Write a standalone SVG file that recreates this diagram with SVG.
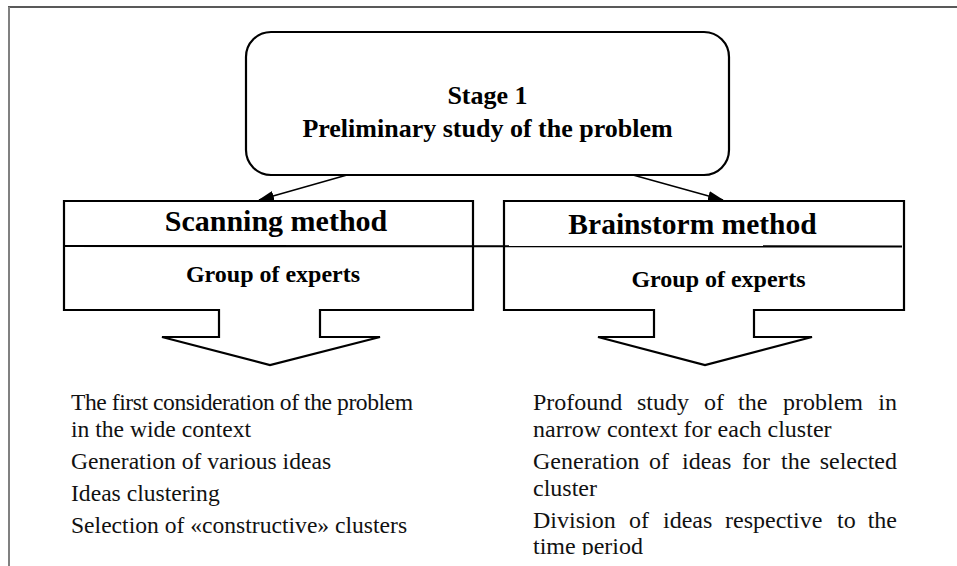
<svg xmlns="http://www.w3.org/2000/svg" width="957" height="566" viewBox="0 0 957 566">
  <defs>
    <marker id="arrowhead" viewBox="0 0 16 10" refX="15" refY="5" markerWidth="16" markerHeight="10" markerUnits="userSpaceOnUse" orient="auto">
      <path d="M0,0 L16,5 L0,10 Z" fill="#000"/>
    </marker>
    <clipPath id="page-clip">
      <rect x="0" y="0" width="957" height="555"/>
    </clipPath>
  </defs>
  <style>
    .frame-top { stroke: #222; stroke-width: 1.5; fill: none; }
    .frame-left { stroke: #808080; stroke-width: 2; fill: none; }
    .shape { fill: #fff; stroke: #000; stroke-width: 2.2; }
    .line { fill: none; stroke: #000; stroke-width: 2.2; }
    .conn { fill: none; stroke: #000; stroke-width: 1.5; }
    .title { font-family: "Liberation Serif", "Times New Roman", serif; font-weight: bold; fill: #000; text-anchor: middle; }
    .body { font-family: "Liberation Serif", "Times New Roman", serif; fill: #111; }
  </style>

  <rect width="957" height="566" fill="#fff"/>

  <!-- page frame -->
  <line class="frame-top" x1="8" y1="7" x2="957" y2="7"/>
  <line class="frame-left" x1="9" y1="7" x2="9" y2="566"/>

  <!-- stage node -->
  <g id="stage1">
    <rect class="shape" x="246" y="32" width="483" height="143" rx="25" ry="25"/>
    <text class="title" x="487.5" y="104" font-size="26">Stage 1</text>
    <text class="title" x="487.5" y="137" font-size="26">Preliminary study of the problem</text>
  </g>

  <!-- scanning method node with block arrow -->
  <g id="scanning">
    <path class="shape" d="M219,310 H64 V201 H473 V310 H320 V337 H380 L270,365 L162,337 H219 Z"/>
    <text class="title" x="276" y="231" font-size="30">Scanning method</text>
    <text class="title" x="273" y="282" font-size="24">Group of experts</text>
  </g>

  <!-- brainstorm method node with block arrow -->
  <g id="brainstorm">
    <path class="shape" d="M654,310 H504 V201 H904 V310 H754 V337 H812 L705,365 L598,337 H654 Z"/>
    <text class="title" x="692.5" y="234" font-size="29.5">Brainstorm method</text>
    <text class="title" x="718.5" y="287" font-size="24">Group of experts</text>
  </g>

  <!-- shared divider under the method headings -->
  <line class="line" x1="64" y1="246" x2="902" y2="246.5"/>

  <!-- connectors -->
  <g id="connectors">
    <line class="conn" x1="347" y1="175" x2="259" y2="200" marker-end="url(#arrowhead)"/>
    <line class="conn" x1="633" y1="175" x2="723" y2="200" marker-end="url(#arrowhead)"/>
  </g>

  <!-- scanning outcomes -->
  <g id="scanning-outcomes" class="body" font-size="23.6">
    <text x="71" y="410" textLength="342" lengthAdjust="spacing">The first consideration of the problem</text>
    <text x="71" y="437">in the wide context</text>
    <text x="71" y="469">Generation of various ideas</text>
    <text x="71" y="501">Ideas clustering</text>
    <text x="71" y="533">Selection of «constructive» clusters</text>
  </g>

  <!-- brainstorm outcomes (justified lines set word by word) -->
  <g id="brainstorm-outcomes" class="body" font-size="24" clip-path="url(#page-clip)">
    <text y="410"><tspan x="533">Profound</tspan><tspan x="637">study</tspan><tspan x="704">of</tspan><tspan x="738">the</tspan><tspan x="783">problem</tspan><tspan x="897" text-anchor="end">in</tspan></text>
    <text x="533" y="437">narrow context for each cluster</text>
    <text y="469"><tspan x="533">Generation</tspan><tspan x="649">of</tspan><tspan x="682">ideas</tspan><tspan x="742">for</tspan><tspan x="781">the</tspan><tspan x="897" text-anchor="end">selected</tspan></text>
    <text x="533" y="496">cluster</text>
    <text y="528"><tspan x="533">Division</tspan><tspan x="629">of</tspan><tspan x="663">ideas</tspan><tspan x="725">respective</tspan><tspan x="837">to</tspan><tspan x="897" text-anchor="end">the</tspan></text>
    <text x="533" y="554">time period</text>
  </g>
</svg>
